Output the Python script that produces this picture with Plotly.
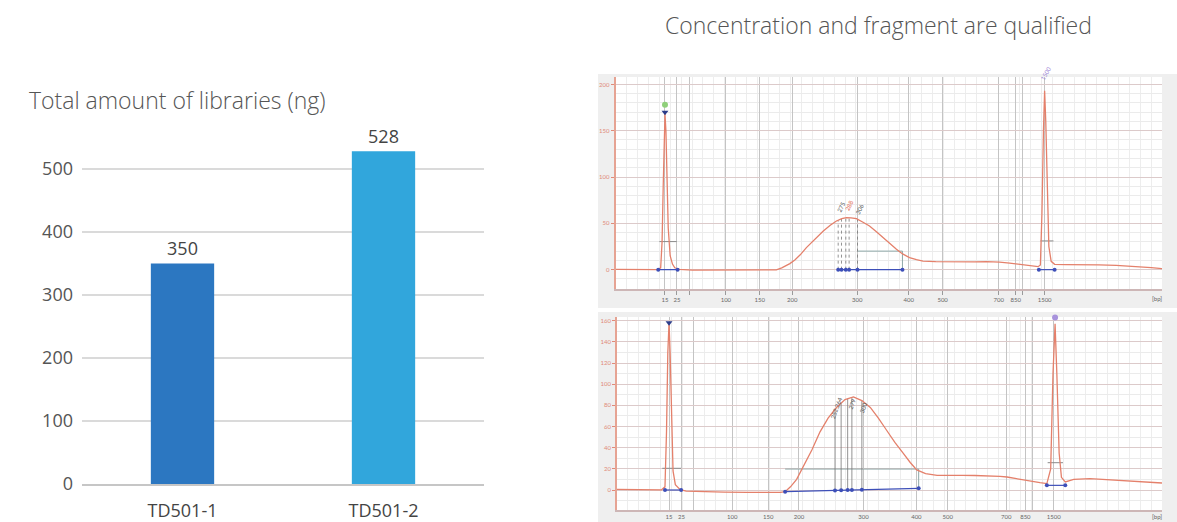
import numpy as np
import plotly.graph_objects as go

# ---------------- Left: total amount of libraries ----------------
samples = ["TD501-1", "TD501-2"]
amounts = [350, 528]
bar_colors = ["#2c77c1", "#31a6dc"]
amount_ticks = [0, 100, 200, 300, 400, 500]

# ---------------- Right: electropherograms (x = migration time, s) ----------------
ladder_bp = ["15", "25", "", "100", "150", "200", "300", "400", "500", "700", "850", "", "1500"]
p1_ladder_t = [46.43, 47.98, 49.67, 54.34, 58.75, 62.97, 71.40, 78.10, 82.50, 89.80, 92.00, 92.90, 95.75]
p2_ladder_t = [46.78, 48.40, 50.03, 55.00, 59.70, 63.70, 72.10, 79.00, 83.10, 90.70, 93.20, 94.10, 96.90]

p1_t = [40.0, 42.0, 44.0, 45.5, 45.87, 46.05, 46.2, 46.32, 46.43, 46.55, 46.7, 46.85, 47.1, 47.4,
        47.7, 48.3, 50.0, 52.0, 55.0, 58.0, 60.9, 61.6, 62.3, 62.65, 63.3, 64.0, 64.8, 65.9, 67.0,
        67.9, 68.7, 69.4, 70.0, 70.6, 71.3, 72.1, 73.0, 73.9, 74.8, 75.6, 76.5, 77.3, 78.2, 79.1,
        79.95, 81.6, 83.4, 85.0, 86.6, 88.2, 89.9, 91.2, 92.5, 93.7, 94.9, 95.2, 95.4, 95.6, 95.75,
        95.9, 96.1, 96.3, 96.6, 97.05, 98.5, 100.7, 102.8, 105.05, 106.5, 108.1, 109.6, 111.0]
p1_fu = [0.3, 0.0, 0.2, 0.0, 2, 30, 90, 145, 168, 150, 95, 45, 15, 6,
         2, 0.3, -0.5, -0.6, -0.4, -0.7, -0.3, 2, 4.5, 6.5, 10.5, 16, 23.8, 33, 41.7,
         48, 52.5, 55, 56.2, 56, 55, 51.5, 47.1, 41, 34.6, 28, 22, 17, 13, 10.8,
         9.3, 8.6, 8.2, 8.5, 8.3, 8.6, 8.2, 7, 5.7, 4.3, 3.2, 5, 60, 150, 193,
         160, 80, 25, 9, 5.7, 5.5, 5.7, 5.2, 4.6, 4, 3.2, 2.2, 1.0]

p2_t = [40.0, 42.0, 44.0, 45.8, 46.25, 46.45, 46.62, 46.78, 46.92, 47.1, 47.3, 47.6, 48.2, 49.0,
        51.0, 54.0, 57.0, 60.0, 61.3, 61.9, 62.6, 63.4, 64.3, 65.4, 66.45, 67.5, 68.6, 69.7, 70.8,
        71.9, 73.0, 74.05, 75.1, 76.2, 77.3, 78.2, 79.05, 80.2, 81.7, 83.4, 85.0, 86.6, 88.2, 89.9,
        90.8, 92.1, 93.4, 94.3, 95.1, 96.0, 96.5, 96.8, 97.07, 97.3, 97.6, 97.9, 98.4, 99.5, 100.5,
        101.6, 102.7, 103.8, 105.0, 106.0, 107.1, 108.1, 109.5, 111.0]
p2_fu = [0.5, 0.3, 0.6, 0.2, 3, 55, 130, 158, 130, 60, 18, 5, 0.5, -1.0,
         -1.6, -2.0, -2.3, -2.5, -2.2, -1.6, 3, 10, 22, 38, 55, 68, 78, 85.5, 88,
         84.5, 78, 68, 56.7, 45, 34.7, 26, 19, 15.5, 13.8, 13.5, 13.9, 13.7, 13.5, 12.8,
         12.3, 10.5, 9.1, 8, 6.9, 6, 20, 110, 157, 110, 35, 12, 7.6, 10.1, 10.5,
         10.7, 10.2, 9.8, 9.4, 9.1, 8.6, 8.2, 7.5, 6.6]

# marker peaks: baseline segment (t0, t1, fu0, fu1) and half-height line (t0, t1, fu)
p1_lower_base = [45.55, 48.07, 0, 0]
p1_lower_half = [45.7, 47.95, 30.3]
p1_upper_base = [95.0, 97.05, 0, 0]
p1_upper_half = [95.2, 96.9, 31]
p1_region_t = [68.93, 69.36, 69.92, 70.35, 71.44, 77.28]
p1_region_base = [0, 0]
p1_region_level = 20
p1_peak_t = [69.36, 70.35, 71.75]
p1_peak_text = ["275", "288", "306"]
p1_peak_col = ["#555555", "#e0604a", "#555555"]

p2_lower_base = [46.25, 48.35, 0, 0]
p2_lower_half = [45.9, 48.35, 20.5]
p2_upper_base = [96.0, 98.4, 4.4, 4.4]
p2_upper_half = [96.1, 98.1, 25.8]
p2_region_t = [61.9, 68.4, 69.2, 70.05, 70.6, 71.9, 79.3]
p2_region_base = [-1.6, 1.6]
p2_region_level = 19.8
p2_peak_t = [68.6, 70.6, 72.1]
p2_peak_text = ["252,264", "279", "300"]
p2_peak_col = ["#555555", "#555555", "#555555"]

TRACE = "#e4806b"
BLUE = "#3d4fb8"
GREY = "#8a8a8a"
MAIN_FONT = "Open Sans, Lato, sans-serif"

fig = go.Figure()

# bars
fig.add_trace(go.Bar(
    x=samples, y=amounts, marker=dict(color=bar_colors, line=dict(width=0)),
    texttemplate="%{y}", textposition="outside", cliponaxis=False,
    textfont=dict(size=18, color="#444444", family=MAIN_FONT), width=0.315,
    xaxis="x", yaxis="y", showlegend=False))


def add_panel(xa, ya, t, fu, lower_base, lower_half, upper_base, upper_half,
              region_t, region_base, region_level, dotted):
    # half-height lines
    for h in (lower_half, upper_half):
        fig.add_trace(go.Scatter(x=[h[0], h[1]], y=[h[2], h[2]], mode="lines",
                                 line=dict(color=GREY, width=1), xaxis=xa, yaxis=ya,
                                 showlegend=False, hoverinfo="skip"))
    # region: level line + right edge
    fig.add_trace(go.Scatter(
        x=[region_t[-2] if dotted else region_t[0], region_t[-1], region_t[-1]],
        y=[region_level, region_level, region_base[1]], mode="lines",
        line=dict(color="#8fa8a8", width=1), xaxis=xa, yaxis=ya, showlegend=False,
        hoverinfo="skip"))
    # peak size lines up to the curve
    base_interp = np.interp(region_t, [region_t[0], region_t[-1]], region_base)
    top = np.interp(region_t, t, fu)
    start = 0 if dotted else 1
    for i in range(start, len(region_t) - 1):
        fig.add_trace(go.Scatter(x=[region_t[i], region_t[i]], y=[base_interp[i], top[i]],
                                 mode="lines",
                                 line=dict(color="#777777", width=0.8,
                                           dash="dot" if dotted else "solid"),
                                 xaxis=xa, yaxis=ya, showlegend=False, hoverinfo="skip"))
    # trace
    fig.add_trace(go.Scatter(x=t, y=fu, mode="lines", line=dict(color=TRACE, width=1.3),
                             xaxis=xa, yaxis=ya, showlegend=False))
    # baselines with dots
    for b in (lower_base, upper_base):
        fig.add_trace(go.Scatter(x=[b[0], b[1]], y=[b[2], b[3]], mode="lines+markers",
                                 line=dict(color=BLUE, width=1.2),
                                 marker=dict(size=4, color=BLUE), xaxis=xa, yaxis=ya,
                                 showlegend=False, hoverinfo="skip"))
    fig.add_trace(go.Scatter(x=region_t, y=base_interp, mode="lines+markers",
                             line=dict(color=BLUE, width=1.2),
                             marker=dict(size=4, color=BLUE), xaxis=xa, yaxis=ya,
                             showlegend=False, hoverinfo="skip"))


add_panel("x2", "y2", p1_t, p1_fu, p1_lower_base, p1_lower_half, p1_upper_base, p1_upper_half,
          p1_region_t, p1_region_base, p1_region_level, True)
add_panel("x3", "y3", p2_t, p2_fu, p2_lower_base, p2_lower_half, p2_upper_base, p2_upper_half,
          p2_region_t, p2_region_base, p2_region_level, False)

# peak top markers
fig.add_trace(go.Scatter(x=[p1_ladder_t[0]], y=[178], mode="markers",
                         marker=dict(size=6, color="#8fd07a", symbol="circle"),
                         xaxis="x2", yaxis="y2", showlegend=False, cliponaxis=False))
fig.add_trace(go.Scatter(x=[p1_ladder_t[0]], y=[170], mode="markers",
                         marker=dict(size=6, color="#2b3c8a", symbol="triangle-down"),
                         xaxis="x2", yaxis="y2", showlegend=False))
fig.add_trace(go.Scatter(x=[p2_ladder_t[0]], y=[166], mode="markers",
                         marker=dict(size=6, color="#8fd07a", symbol="circle"),
                         xaxis="x3", yaxis="y3", showlegend=False, cliponaxis=False))
fig.add_trace(go.Scatter(x=[p2_ladder_t[0]], y=[158], mode="markers",
                         marker=dict(size=6, color="#2b3c8a", symbol="triangle-down"),
                         xaxis="x3", yaxis="y3", showlegend=False))
fig.add_trace(go.Scatter(x=[97.07], y=[163], mode="markers",
                         marker=dict(size=6, color="#a893dc", symbol="circle"),
                         xaxis="x3", yaxis="y3", showlegend=False, cliponaxis=False))

annotations = [
    dict(text="Total amount of libraries (ng)", x=27 / 1177, y=1 - 100 / 522, xref="paper",
         yref="paper", xanchor="left", yanchor="middle", showarrow=False,
         font=dict(size=23, color="#555555", family=MAIN_FONT, weight=300)),
    dict(text="Concentration and fragment are qualified", x=878 / 1177, y=1 - 25 / 522,
         xref="paper", yref="paper", xanchor="center", yanchor="middle", showarrow=False,
         font=dict(size=23, color="#555555", family=MAIN_FONT, weight=300)),
    dict(text="[bp]", x=110.3, y=-0.045, xref="x2", yref="y2 domain", showarrow=False,
         font=dict(size=6, color="#666666"), yanchor="middle"),
    dict(text="[bp]", x=110.3, y=-0.035, xref="x3", yref="y3 domain", showarrow=False,
         font=dict(size=6, color="#666666"), yanchor="middle"),
    dict(text="1500", x=95.9, y=200, xref="x2", yref="y2", showarrow=False, textangle=-60,
         font=dict(size=6, color="#9b84d6"), yanchor="bottom"),
]
for tt, txt, col in zip(p1_peak_t, p1_peak_text, p1_peak_col):
    annotations.append(dict(text=txt, x=tt, y=float(np.interp(tt, p1_t, p1_fu)) + 3,
                            xref="x2", yref="y2", showarrow=False, textangle=-65,
                            font=dict(size=6, color=col), yanchor="bottom"))
for tt, txt, col in zip(p2_peak_t, p2_peak_text, p2_peak_col):
    annotations.append(dict(text=txt, x=tt, y=float(np.interp(tt, p2_t, p2_fu)) - 14,
                            xref="x3", yref="y3", showarrow=False, textangle=-70,
                            font=dict(size=6, color=col), yanchor="bottom"))

shapes = [
    dict(type="rect", xref="paper", yref="paper", x0=598 / 1177, x1=1, y0=1 - 308 / 522,
         y1=1 - 74 / 522, fillcolor="#efefef", line=dict(width=0), layer="below"),
    dict(type="rect", xref="paper", yref="paper", x0=598 / 1177, x1=1, y0=0,
         y1=1 - 312 / 522, fillcolor="#efefef", line=dict(width=0), layer="below"),
    dict(type="rect", xref="x2 domain", yref="y2 domain", x0=0, x1=1, y0=0, y1=1,
         fillcolor="#ffffff", line=dict(width=0), layer="below"),
    dict(type="rect", xref="x3 domain", yref="y3 domain", x0=0, x1=1, y0=0, y1=1,
         fillcolor="#ffffff", line=dict(width=0), layer="below"),
]


def panel_x(domain, ladder_t, ticks, ticklen):
    return dict(domain=domain, range=[40, 111], tickmode="array", tickvals=ladder_t,
                ticktext=ladder_bp, tickfont=dict(size=6, color="#666666"), ticks=ticks,
                ticklen=ticklen, tickcolor="#9a9a9a", showline=True, linecolor="#cdb6b6",
                linewidth=2, showgrid=True, gridcolor="#c4c4c4", gridwidth=1, zeroline=False,
                automargin=False,
                minor=dict(tickmode="linear", tick0=40, dtick=1.42, showgrid=True,
                           gridcolor="#ededed", gridwidth=1, ticks=""))


def panel_y(domain, rng, vals):
    return dict(domain=domain, range=rng, tickmode="array", tickvals=vals,
                tickfont=dict(size=6, color="#e08a78"), ticks="outside", ticklen=3,
                tickcolor="#e08a78", showline=True, linecolor="#e6a393", linewidth=1.5,
                showgrid=True, gridcolor="#dccaca", gridwidth=1, zeroline=False,
                automargin=False,
                minor=dict(dtick=10, showgrid=True, gridcolor="#ebebeb", gridwidth=1,
                           ticks=""))


fig.update_layout(
    width=1177, height=522, autosize=False, margin=dict(l=0, r=0, t=0, b=0),
    paper_bgcolor="#ffffff", plot_bgcolor="rgba(0,0,0,0)",
    font=dict(family="Lato, Open Sans, sans-serif", color="#555555"),
    bargap=0.69,
    xaxis=dict(domain=[82 / 1177, 484 / 1177], showline=True, linecolor="#c6c6c6",
               linewidth=2, ticks="", tickfont=dict(size=18, color="#444444", family=MAIN_FONT),
               ticklabelstandoff=9, showgrid=False, automargin=False),
    yaxis=dict(domain=[1 - 484 / 522, 1 - 140 / 522], range=[0, 546], tickmode="array",
               tickvals=amount_ticks, showgrid=True, gridcolor="#dadada", gridwidth=1.5,
               zeroline=False, ticks="",
               tickfont=dict(size=18, color="#555555", family=MAIN_FONT),
               ticklabelstandoff=8, automargin=False),
    xaxis2=panel_x([615.5 / 1177, 1162 / 1177], p1_ladder_t, "outside", 4),
    yaxis2=dict(panel_y([1 - 289 / 522, 1 - 77 / 522], [-20.9, 208], [0, 50, 100, 150, 200]),
                anchor="x2"),
    xaxis3=panel_x([617 / 1177, 1162 / 1177], p2_ladder_t, "", 0),
    yaxis3=dict(panel_y([1 - 510 / 522, 1 - 317 / 522], [-18.9, 163.5],
                        [0, 20, 40, 60, 80, 100, 120, 140, 160]), anchor="x3"),
    annotations=annotations, shapes=shapes,
)
fig.layout.xaxis2.anchor = "y2"
fig.layout.xaxis3.anchor = "y3"

fig.write_html(
    "out.html",
    config={"displayModeBar": False, "responsive": False},
    post_script=(
        "document.body.style.margin='0';document.body.style.overflow='hidden';"
        "Plotly.relayout('{plot_id}', {width: 1177, height: 522});"
    ),
)
